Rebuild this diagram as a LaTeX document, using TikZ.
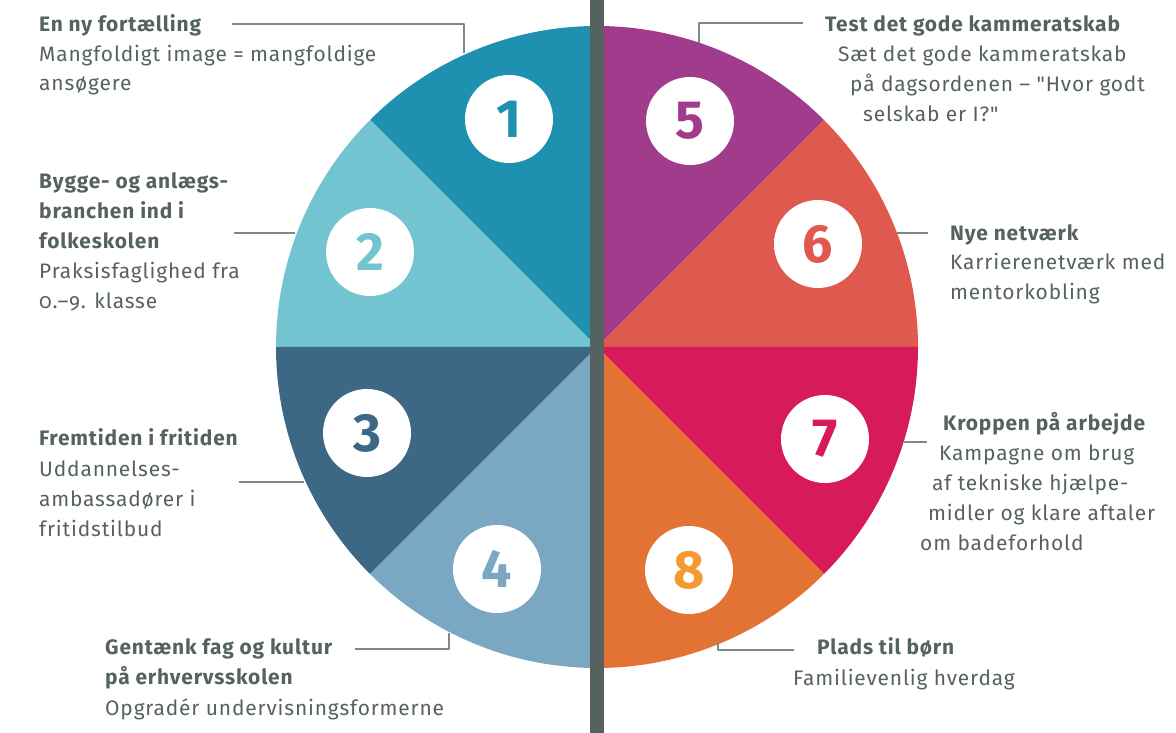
\documentclass[tikz,border=0pt]{standalone}
\usepackage{fontspec}
\setmainfont{Fira Sans}[Ligatures=TeXOff,LetterSpace=4]
\usepackage{tikz}
\usetikzlibrary{shapes}
\definecolor{textcol}{HTML}{55625F}
\definecolor{leadcol}{HTML}{7A8A88}
\definecolor{secA}{HTML}{1E90B0}
\definecolor{secB}{HTML}{72C5D0}
\definecolor{secC}{HTML}{3C6785}
\definecolor{secD}{HTML}{7AA8C2}
\definecolor{secE}{HTML}{A13C8C}
\definecolor{secF}{HTML}{E0594E}
\definecolor{secG}{HTML}{D61A5A}
\definecolor{secH}{HTML}{E37335}
\definecolor{numH}{HTML}{F39A30}

\begin{document}
\begin{tikzpicture}[line join=bevel,
  numcirc/.style={circle,fill=white,minimum size=88bp,inner sep=0pt,font=\fontsize{54}{54}\selectfont\bfseries\addfontfeatures{LetterSpace=0}},
  head/.style={anchor=base west,inner sep=0pt,text=textcol,font=\fontsize{21}{21}\selectfont\bfseries},
  body/.style={anchor=base west,inner sep=0pt,text=textcol,font=\fontsize{21}{21}\selectfont},
  lead/.style={leadcol,line width=1.2bp}]
%%
\useasboundingbox (0bp,0bp) rectangle (1176bp,733bp);
\fill [white] (0bp,0bp) rectangle (1176bp,733bp);
\coordinate (mid) at (597bp,386bp);
%% sectors
\begin{scope}
  \pgfsetfillcolor{secA}
  \fill (mid) -- ++(90:321bp) arc (90:135:321bp) -- cycle;
\end{scope}
\begin{scope}
  \pgfsetfillcolor{secB}
  \fill (mid) -- ++(135:321bp) arc (135:180:321bp) -- cycle;
\end{scope}
\begin{scope}
  \pgfsetfillcolor{secC}
  \fill (mid) -- ++(180:321bp) arc (180:225:321bp) -- cycle;
\end{scope}
\begin{scope}
  \pgfsetfillcolor{secD}
  \fill (mid) -- ++(225:321bp) arc (225:270:321bp) -- cycle;
\end{scope}
\begin{scope}
  \pgfsetfillcolor{secE}
  \fill (mid) -- ++(45:321bp) arc (45:90:321bp) -- cycle;
\end{scope}
\begin{scope}
  \pgfsetfillcolor{secF}
  \fill (mid) -- ++(0:321bp) arc (0:45:321bp) -- cycle;
\end{scope}
\begin{scope}
  \pgfsetfillcolor{secG}
  \fill (mid) -- ++(-45:321bp) arc (-45:0:321bp) -- cycle;
\end{scope}
\begin{scope}
  \pgfsetfillcolor{secH}
  \fill (mid) -- ++(-90:321bp) arc (-90:-45:321bp) -- cycle;
\end{scope}
%% middle bar
\fill [textcol] (590bp,0bp) rectangle (603.5bp,733bp);
%% numbers
  \node (n1) at (509bp,614bp) [numcirc,text=secA] {1};
  \node (n2) at (370bp,481bp) [numcirc,text=secB] {2};
  \node (n3) at (367bp,300bp) [numcirc,text=secC] {3};
  \node (n4) at (497bp,164bp) [numcirc,text=secD] {4};
  \node (n5) at (690bp,612bp) [numcirc,text=secE] {5};
  \node (n6) at (818bp,489bp) [numcirc,text=secF] {6};
  \node (n7) at (825bp,294bp) [numcirc,text=secG] {7};
  \node (n8) at (689bp,163bp) [numcirc,text=numH] {8};
%% left texts
  \node (h1) at (39bp,701bp) [head] {En ny fortælling};
  \node (b1a) at (39bp,671bp) [body] {Mangfoldigt image = mangfoldige};
  \node (b1b) at (39bp,642bp) [body] {ansøgere};
  \node (h2a) at (39bp,544bp) [head] {Bygge- og anlægs-};
  \node (h2b) at (39bp,514bp) [head] {branchen ind i};
  \node (h2c) at (39bp,484bp) [head] {folkeskolen};
  \node (b2a) at (39bp,454bp) [body] {Praksisfaglighed fra};
  \node (b2b) at (39bp,424bp) [body] {{\addfontfeatures{Numbers=OldStyle}0.–9.} klasse};
  \node (h3) at (39bp,287bp) [head] {Fremtiden i fritiden};
  \node (b3a) at (39bp,256bp) [body] {Uddannelses-};
  \node (b3b) at (39bp,226bp) [body] {ambassadører i};
  \node (b3c) at (39bp,196bp) [body] {fritidstilbud};
  \node (h4a) at (105bp,78bp) [head] {Gentænk fag og kultur};
  \node (h4b) at (105bp,48bp) [head] {på erhvervsskolen};
  \node (b4) at (105bp,18bp) [body] {Opgradér undervisningsformerne};
%% right texts
  \node (h5) at (825bp,701bp) [head] {Test det gode kammeratskab};
  \node (b5a) at (838bp,671bp) [body] {Sæt det gode kammeratskab};
  \node (b5b) at (850bp,641bp) [body] {på dagsordenen – "Hvor godt};
  \node (b5c) at (863bp,611bp) [body] {selskab er I?"};
  \node (h6) at (950bp,492bp) [head] {Nye netværk};
  \node (b6a) at (950bp,463bp) [body] {Karrierenetværk med};
  \node (b6b) at (950bp,433bp) [body] {mentorkobling};
  \node (h7) at (943bp,302bp) [head] {Kroppen på arbejde};
  \node (b7a) at (939bp,272bp) [body] {Kampagne om brug};
  \node (b7b) at (932bp,242bp) [body] {af tekniske hjælpe-};
  \node (b7c) at (928bp,212bp) [body] {midler og klare aftaler};
  \node (b7d) at (920bp,182bp) [body] {om badeforhold};
  \node (h8) at (817bp,78bp) [head] {Plads til børn};
  \node (b8) at (793bp,47bp) [body] {Familievenlig hverdag};
%% leader lines
  \coordinate (l1a) at (232bp,709bp);
  \coordinate (l1b) at (464bp,680bp);
  \coordinate (l2a) at (234bp,500bp);
  \coordinate (l2b) at (295bp,500bp);
  \coordinate (l3a) at (239bp,251bp);
  \coordinate (l3b) at (304bp,251bp);
  \coordinate (l4a) at (355bp,84bp);
  \coordinate (l4b) at (449bp,100bp);
  \coordinate (l5a) at (803bp,710bp);
  \coordinate (l5b) at (699bp,690bp);
  \coordinate (l6a) at (928bp,500bp);
  \coordinate (l6b) at (897bp,500bp);
  \coordinate (l7a) at (927bp,291bp);
  \coordinate (l7b) at (904bp,291bp);
  \coordinate (l8a) at (794bp,83bp);
  \coordinate (l8b) at (718bp,90bp);
  \draw [lead] (l1a) -| (l1b);
  \draw [lead] (l2a) -- (l2b);
  \draw [lead] (l3a) -- (l3b);
  \draw [lead] (l4a) -| (l4b);
  \draw [lead] (l5a) -| (l5b);
  \draw [lead] (l6a) -- (l6b);
  \draw [lead] (l7a) -- (l7b);
  \draw [lead] (l8a) -| (l8b);
%
\end{tikzpicture}
\end{document}
